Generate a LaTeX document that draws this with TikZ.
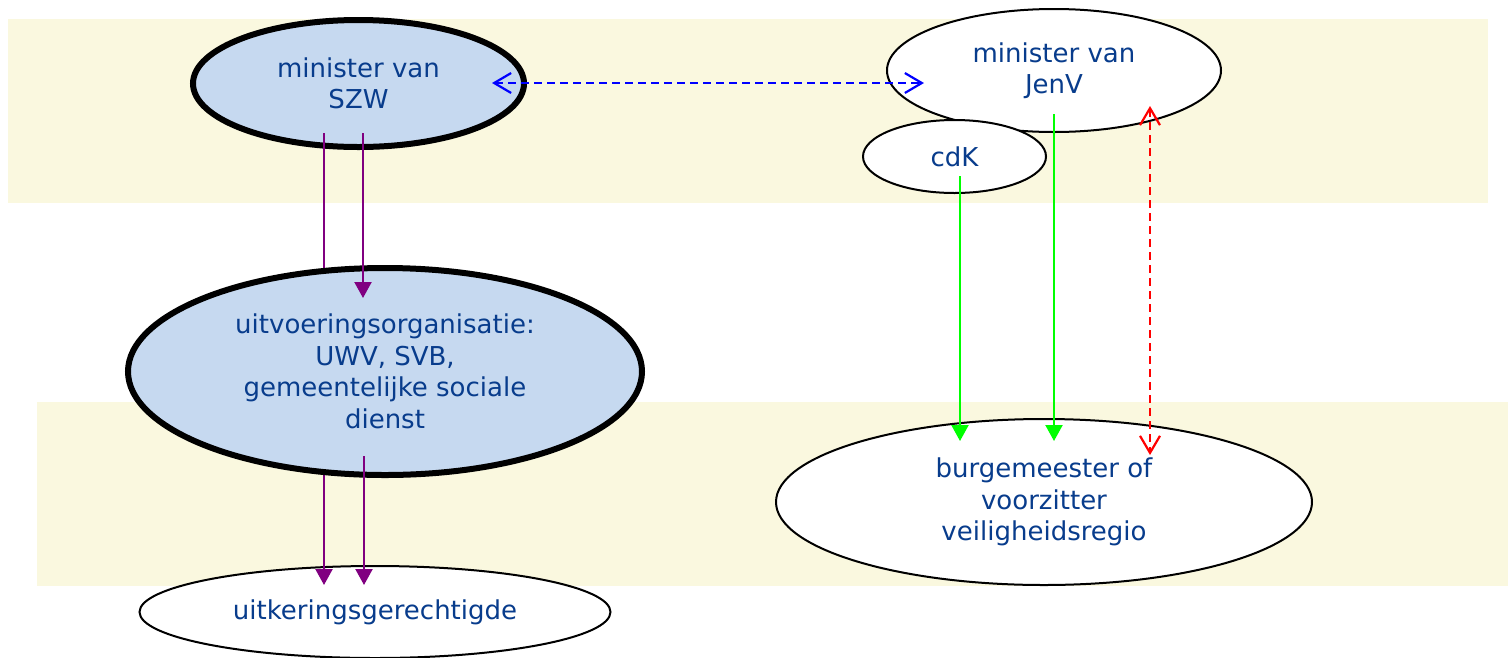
\documentclass[tikz,border=0pt]{standalone}
\usepackage{fontspec}
\setmainfont{DejaVu Sans}
\usetikzlibrary{arrows.meta,positioning,shapes.geometric}

\definecolor{bandyellow}{RGB}{250,248,223}
\definecolor{nodeblue}{RGB}{198,217,240}
\definecolor{textblue}{RGB}{8,60,140}
\definecolor{linkpurple}{RGB}{128,0,128}
\definecolor{linkgreen}{RGB}{0,255,0}

\tikzset{
  org/.style={ellipse,draw=black,line width=2pt,fill=white,inner sep=0pt,
    align=center,text=textblue,font=\fontsize{26}{31.5}\selectfont},
  orgbold/.style={org,line width=6pt,fill=nodeblue},
  band/.style={fill=bandyellow,draw=none},
  hierarchy/.style={linkpurple,line width=2.2pt,-{Triangle[length=16pt,width=17pt]}},
  command/.style={linkgreen,line width=2.2pt,-{Triangle[length=16pt,width=17pt]}},
  consult/.style={line width=2.2pt,dash pattern=on 8pt off 5pt,
    {Straight Barb[length=17pt,width=20pt]}-{Straight Barb[length=17pt,width=20pt]}}
}

\begin{document}
\begin{tikzpicture}[x=1pt,y=-1pt]
\useasboundingbox (0,0) rectangle (1508,657);

% Bands
\fill[band] (8,19) rectangle (1488,203);
\fill[band] (37,402) rectangle (1508,586);

% Ministers and cdK
\node[orgbold,minimum width=331,minimum height=127] (szw) at (358.5,83.5) {minister van\\SZW};
\node[org,minimum width=334,minimum height=123] (jenv) at (1054,70.5) {minister van\\JenV};
\node[org,minimum width=183,minimum height=73] (cdk) at (954.5,156.5) {cdK};

% Consultation between ministers
\coordinate (szwE) at (492,83);
\coordinate (jenvW) at (924,83);
\draw[consult,blue] (szwE) -- (jenvW);

% Hierarchy lines behind the organisation
\coordinate (szwL) at (324,133);
\coordinate (uvoL) at (324,371);
\coordinate (uitkL) at (324,585);
\draw[hierarchy] (szwL) -- (uvoL);
\draw[hierarchy] (uvoL) -- (uitkL);

% Organisation and lower nodes
\node[orgbold,minimum width=514,minimum height=207] (uvo) at (385,371.5)
  {uitvoeringsorganisatie:\\UWV, SVB,\\gemeentelijke sociale\\dienst};
\node[org,minimum width=536,minimum height=166] (burg) at (1044,502)
  {burgemeester of\\voorzitter\\veiligheidsregio};
\node[org,minimum width=471,minimum height=92] (uitk) at (375,612) {uitkeringsgerechtigde};

% Hierarchy SZW
\coordinate (szwR) at (363,133);
\coordinate (uvoTop) at (363,298);
\coordinate (uvoR) at (364,456);
\coordinate (uitkR) at (364,585);
\draw[hierarchy] (szwR) -- (uvoTop);
\draw[hierarchy] (uvoR) -- (uitkR);
\draw[hierarchy] (uitk.north -| uitkL) -- (uitkL);

% Commands JenV / cdK
\coordinate (cdkS) at (960,176);
\coordinate (jenvS) at (1054,114);
\coordinate (burgA) at (960,441);
\coordinate (burgB) at (1054,441);
\draw[command] (cdkS) -- (burgA);
\draw[command] (jenvS) -- (burgB);

% Consultation burgemeester
\coordinate (jenvR) at (1150,106);
\coordinate (burgR) at (1150,455);
\draw[consult,red] (jenvR) -- (burgR);
\end{tikzpicture}
\end{document}
